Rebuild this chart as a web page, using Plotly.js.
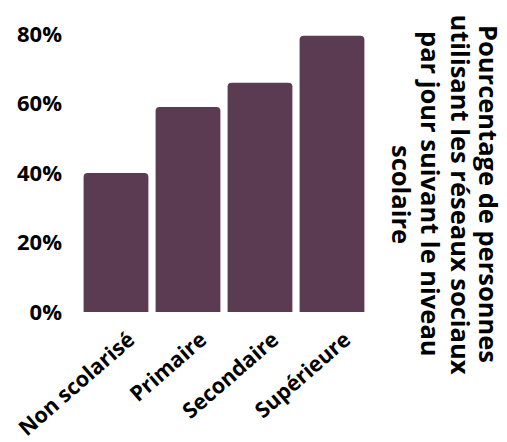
<!DOCTYPE html>
<html><head><meta charset="utf-8">
<script src="https://cdn.plot.ly/plotly-3.0.1.min.js"></script>
<style>html,body{margin:0;padding:0;background:#fff}#chart{width:507px;height:442px}</style>
</head><body><div id="chart"></div>
<script>
const categories = ["Non scolarisé", "Primaire", "Secondaire", "Supérieure"];
const values = [40, 59, 66, 79.5];
const tickValues = [0, 20, 40, 60, 80];
const tickLabels = ["0%", "20%", "40%", "60%", "80%"];
const titleLines = ["Pourcentage de personnes", "utilisant les réseaux sociaux", "par jour suivant le niveau", "scolaire"];

const L = 80, R = 139, T = 34, B = 130, W = 507, H = 442;
const plotRight = W - R, plotMidY = T + (H - T - B) / 2;
const lineX = [489, 460.5, 431, 402];
const titleCenterY = 194;

const annotations = titleLines.map((t, i) => ({
  text: t, textangle: 90, xref: "paper", yref: "paper",
  x: 1, xshift: lineX[i] - plotRight, y: 0.5, yshift: plotMidY - titleCenterY,
  showarrow: false, xanchor: "center", yanchor: "middle", align: "center",
  borderpad: 0,
  font: {family: "Open Sans", size: 25.5, color: "#000", weight: "bold"}
}));

Plotly.newPlot("chart", [{
  type: "bar", x: categories, y: values,
  marker: {color: "#5b3b51"}, hoverinfo: "none"
}], {
  width: W, height: H,
  margin: {l: L, r: R, t: T, b: B},
  paper_bgcolor: "#fff", plot_bgcolor: "#fff",
  bargap: 0.1, barcornerradius: 4,
  showlegend: false,
  xaxis: {tickangle: -41, tickfont: {family: "Open Sans", size: 21.5, color: "#000", weight: "bold"},
          showgrid: false, zeroline: false, showline: false, ticks: "",
          ticklabelstandoff: 10, ticklabelshift: 13},
  yaxis: {range: [0, 80], tickvals: tickValues, ticktext: tickLabels,
          tickfont: {family: "Open Sans", size: 22, color: "#000", weight: "bold"},
          showgrid: false, zeroline: false, showline: false, ticks: "", ticklabelstandoff: 17},
  annotations: annotations
}, {displayModeBar: false, staticPlot: true});
</script></body></html>
